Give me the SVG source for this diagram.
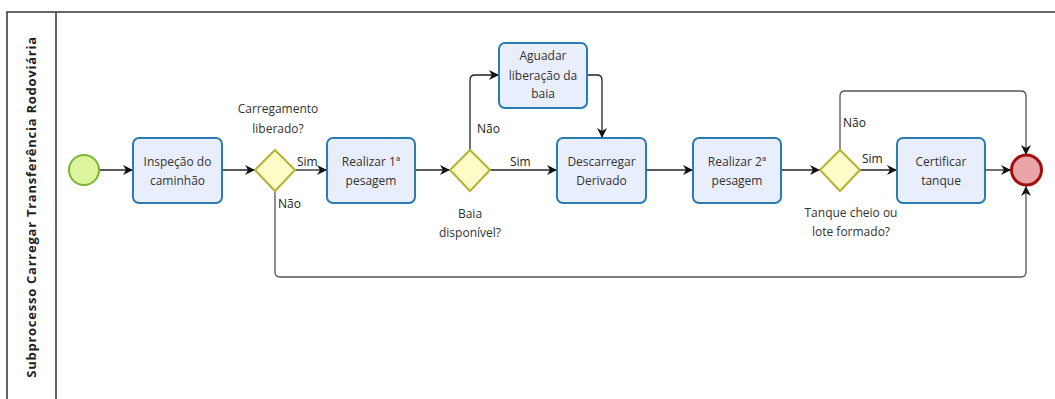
<svg xmlns="http://www.w3.org/2000/svg" width="1055" height="399" viewBox="0 0 1055 399">
<defs>
<style>
.task{fill:#e9eefc;stroke:#2b7bb3;stroke-width:2}
.gw{fill:#fdfbc8;stroke:#b3b335;stroke-width:2}
.t{font-family:"Open Sans","DejaVu Sans",sans-serif;font-size:12px;fill:#333;text-anchor:middle}
.lbl{font-family:"Open Sans","DejaVu Sans",sans-serif;font-size:12px;fill:#222}
.flow{fill:none;stroke:#222;stroke-width:1.3;marker-end:url(#arr)}
.loop{fill:none;stroke:#555;stroke-width:1.3;marker-end:url(#arr)}
.pool{fill:none;stroke:#333;stroke-width:1.5}
</style>
<marker id="arr" viewBox="0 0 10 10" refX="10" refY="5" markerWidth="10" markerHeight="10" markerUnits="userSpaceOnUse" orient="auto">
<path d="M0,0 L10,5 L0,10 L3,5 z" fill="#111"/>
</marker>
</defs>
<rect width="1055" height="399" fill="#fff"/>
<g id="pool">
<path class="pool" d="M1055,12 H7 V399"/>
<path class="pool" d="M56,12 V399"/>
<text transform="translate(36,207) rotate(-90)" font-family="'Open Sans','DejaVu Sans',sans-serif" font-size="13" font-weight="bold" letter-spacing="0.75" fill="#222" text-anchor="middle">Subprocesso Carregar Transferência Rodoviária</text>
</g>
<g id="connectors">
<path class="flow" d="M99,170 H133"/>
<path class="flow" d="M222,170 H255"/>
<path class="flow" d="M295,170 H327"/>
<path class="flow" d="M415,170 H450"/>
<path class="flow" d="M490,170 H557"/>
<path class="flow" d="M470,150 V80 Q470,75 475,75 H499"/>
<path class="flow" d="M587,75 H597 Q602,75 602,80 V138"/>
<path class="flow" d="M646,170 H693"/>
<path class="flow" d="M781,170 H820"/>
<path class="flow" d="M860,170 H897"/>
<path class="flow" d="M985,170 H1011"/>
<path class="loop" d="M840,150 V96 Q840,91 845,91 H1021 Q1026,91 1026,96 V155"/>
<path class="loop" d="M275,191 V272 Q275,277 280,277 H1021 Q1026,277 1026,272 V186"/>
<text class="lbl" x="297" y="166">Sim</text>
<text class="lbl" x="278" y="208">Não</text>
<text class="lbl" x="477" y="133">Não</text>
<text class="lbl" x="510" y="166">Sim</text>
<text class="lbl" x="843" y="127">Não</text>
<text class="lbl" x="862" y="163">Sim</text>
</g>
<g id="start">
<circle cx="84" cy="170" r="15" fill="#dcf59c" stroke="#78b535" stroke-width="2"/>
</g>
<g id="inspecao">
<rect class="task" x="133" y="138" width="89" height="65" rx="6"/>
<text class="t" x="177.5" y="166">Inspeção do</text>
<text class="t" x="177.5" y="185">caminhão</text>
</g>
<g id="gw1">
<path class="gw" d="M275,150 L295,170 L275,191 L255,170 Z"/>
<text class="t" x="278" y="113">Carregamento</text>
<text class="t" x="278" y="133">liberado?</text>
</g>
<g id="pesagem1">
<rect class="task" x="327" y="138" width="88" height="65" rx="6"/>
<text class="t" x="371" y="166">Realizar 1ª</text>
<text class="t" x="371" y="185">pesagem</text>
</g>
<g id="gw2">
<path class="gw" d="M470,150 L490,170 L470,191 L450,170 Z"/>
<text class="t" x="470" y="218">Baia</text>
<text class="t" x="470" y="237">disponível?</text>
</g>
<g id="aguardar">
<rect class="task" x="499" y="43" width="88" height="65" rx="6"/>
<text class="t" x="543" y="60">Aguadar</text>
<text class="t" x="543" y="80">liberação da</text>
<text class="t" x="543" y="98">baia</text>
</g>
<g id="descarregar">
<rect class="task" x="557" y="138" width="89" height="65" rx="6"/>
<text class="t" x="601.5" y="166">Descarregar</text>
<text class="t" x="601.5" y="185">Derivado</text>
</g>
<g id="pesagem2">
<rect class="task" x="693" y="138" width="88" height="65" rx="6"/>
<text class="t" x="737" y="166">Realizar 2ª</text>
<text class="t" x="737" y="185">pesagem</text>
</g>
<g id="gw3">
<path class="gw" d="M840,150 L860,170 L840,191 L820,170 Z"/>
<text class="t" x="851" y="217">Tanque cheio ou</text>
<text class="t" x="851" y="236">lote formado?</text>
</g>
<g id="certificar">
<rect class="task" x="897" y="138" width="88" height="65" rx="6"/>
<text class="t" x="941" y="166">Certificar</text>
<text class="t" x="941" y="185">tanque</text>
</g>
<g id="end">
<circle cx="1026.5" cy="170" r="15" fill="#e9a5a7" stroke="#a01010" stroke-width="3"/>
</g>
</svg>
